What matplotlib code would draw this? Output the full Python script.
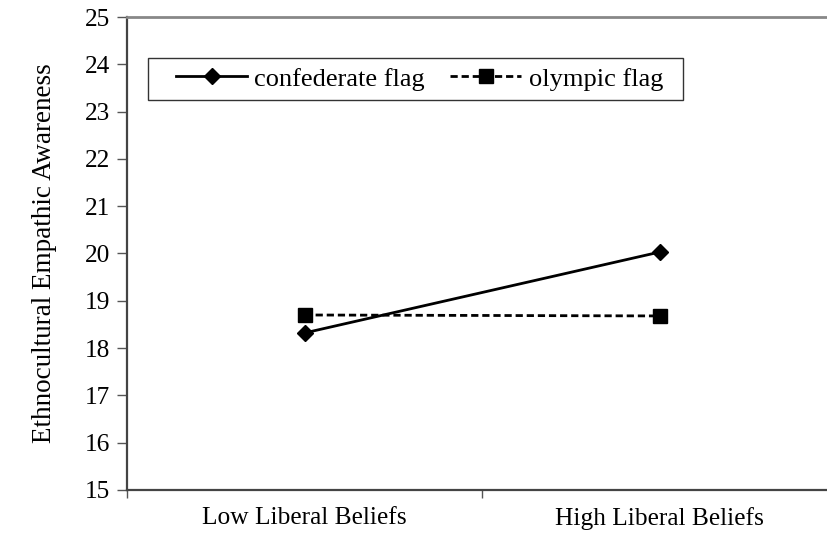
import matplotlib
matplotlib.use("Agg")
import matplotlib.pyplot as plt
from matplotlib.patches import Rectangle

categories = ["Low Liberal Beliefs", "High Liberal Beliefs"]
confederate = [18.32, 20.03]
olympic = [18.70, 18.68]
y_ticks = list(range(15, 26))

plt.rcParams["font.family"] = ["Liberation Serif", "DejaVu Serif"]
plt.rcParams["font.size"] = 18.3

fig = plt.figure(figsize=(8.27, 5.35), dpi=100)
ax = fig.add_axes([127 / 827, 45 / 535, 710 / 827, 473 / 535])

x = list(range(len(categories)))
ax.plot(x, confederate, color="black", linewidth=2, marker="D", markersize=8.5,
        label="confederate flag")
ax.plot(x, olympic, color="black", linewidth=2, linestyle=(0, (2.6, 1.4)), marker="s",
        markersize=10.5, label="olympic flag")

ax.set_xlim(-0.5, len(categories) - 0.5)
ax.set_ylim(15, 25)
ax.set_yticks(y_ticks)
ax.set_xticks([i - 0.5 for i in range(len(categories) + 1)])
ax.set_xticklabels([])
ax.set_xticks(x, minor=True)
ax.set_xticklabels(categories, minor=True)
ax.tick_params(axis="x", which="minor", length=0, pad=12)
ax.tick_params(axis="x", which="major", direction="out", length=6, width=1, color="#555555")
ax.tick_params(axis="y", direction="out", length=7, width=1, color="#555555", pad=5)

for side in ("left", "bottom"):
    ax.spines[side].set_color("#444444")
    ax.spines[side].set_linewidth(1.6)
ax.spines["top"].set_color("#888888")
ax.spines["top"].set_linewidth(2)
ax.spines["right"].set_visible(False)

ax.set_ylabel("Ethnocultural Empathic Awareness", fontsize=19.5, labelpad=20)

# legend box drawn by hand: Excel pads the sides more than the top and bottom
box_x, box_y, box_w, box_h = 21 / 710, 390 / 473, 535 / 710, 42 / 473
ax.add_patch(Rectangle((box_x, box_y), box_w, box_h, transform=ax.transAxes,
                       facecolor="white", edgecolor="#333333", linewidth=1.0, zorder=4))
leg = ax.legend(ncol=2, loc="center",
                bbox_to_anchor=(box_x + box_w / 2 + 4 / 710, box_y + box_h / 2),
                prop={"family": "Liberation Serif", "size": 19},
                frameon=False, handlelength=2.7, columnspacing=0.95,
                handletextpad=0.27, borderpad=0, borderaxespad=0)
leg.set_zorder(5)

fig.savefig("out.png", dpi=100)
